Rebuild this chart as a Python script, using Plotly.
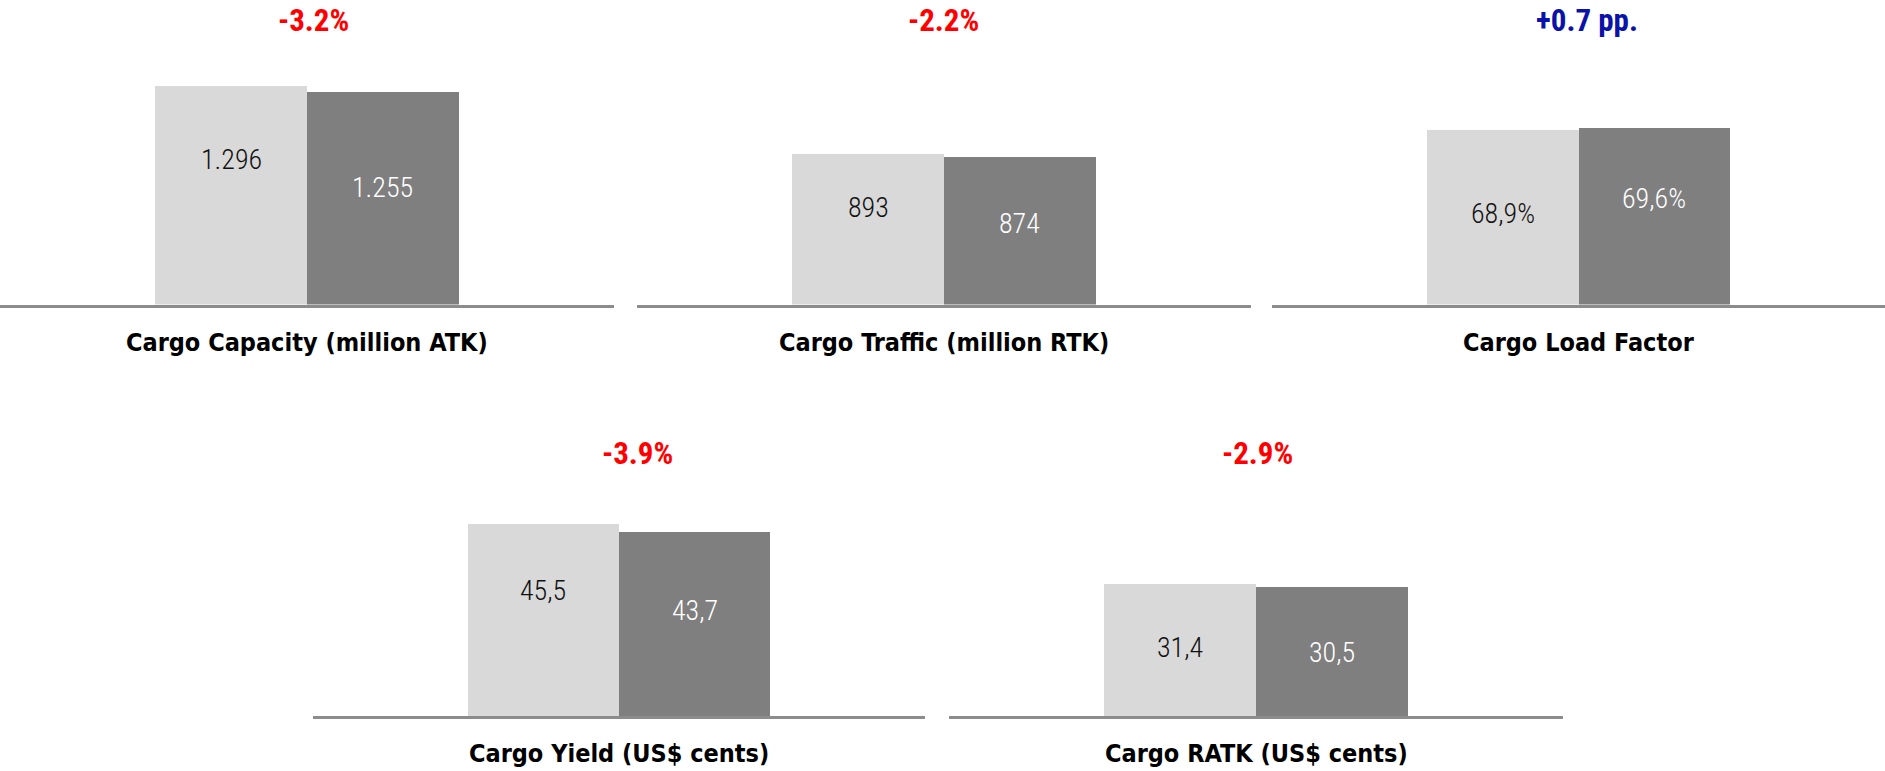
import plotly.graph_objects as go

# ---- data ----
periods = ["Previous period", "Current period"]
panel_titles = [
    "Cargo Capacity (million ATK)",
    "Cargo Traffic (million RTK)",
    "Cargo Load Factor",
    "Cargo Yield (US$ cents)",
    "Cargo RATK (US$ cents)",
]
capacity = [1296, 1255]
traffic = [893, 874]
load_factor = [68.9, 69.6]
yield_cents = [45.5, 43.7]
ratk_cents = [31.4, 30.5]
value_labels = [
    ["1.296", "1.255"],
    ["893", "874"],
    ["68,9%", "69,6%"],
    ["45,5", "43,7"],
    ["31,4", "30,5"],
]
changes = ["-3.2%", "-2.2%", "+0.7 pp.", "-3.9%", "-2.9%"]
change_colors = ["#FF0000", "#FF0000", "#0A12A8", "#FF0000", "#FF0000"]

series = [capacity, traffic, load_factor, yield_cents, ratk_cents]

# ---- layout / style ----
W, H = 1885, 771
bar_colors = ["#D9D9D9", "#7F7F7F"]
label_colors = ["#111111", "#FFFFFF"]
# label height as fraction of bar value (style)
label_frac = [[0.66, 0.55], [0.64, 0.55], [0.525, 0.60], [0.655, 0.575], [0.515, 0.49]]
# panel horizontal extents in px, row baselines
x_px = [(0, 614), (637, 1251), (1272, 1885), (313, 925), (949, 1563)]
rows = [0, 0, 0, 1, 1]
y_dom = [(1 - 304.5 / H, 1.0), (1 - 716 / H, 0.55)]
y_max = [1802, 1802, 120.4, 87.5, 87.5]
title_y_px = [342, 753]
change_y_px = [20, 453]
change_x_px = [313, 944, 1587, 637, 1257]

cond_font = "Liberation Sans Narrow, Roboto Condensed, DejaVu Sans Condensed, Arial Narrow, sans-serif"
title_font = "DejaVu Sans Condensed, DejaVu Sans, sans-serif"

fig = go.Figure()
layout = dict(
    width=W, height=H, margin=dict(l=0, r=0, t=0, b=0),
    paper_bgcolor="white", plot_bgcolor="white",
    showlegend=False, barmode="group", bargap=0,
)
annotations = []
for i, vals in enumerate(series):
    ax = "" if i == 0 else str(i + 1)
    fig.add_trace(go.Bar(
        x=periods, y=vals, xaxis="x" + ax, yaxis="y" + ax,
        marker=dict(color=bar_colors, line=dict(width=0)),
        hoverinfo="skip",
    ))
    x0, x1 = x_px[i]
    layout["xaxis" + ax] = dict(
        domain=[x0 / W, x1 / W], range=[-1.52, 2.52], anchor="y" + ax,
        showticklabels=False, ticks="", showgrid=False, zeroline=False,
        showline=True, linecolor="#8C8C8C", linewidth=3,
    )
    layout["yaxis" + ax] = dict(
        domain=list(y_dom[rows[i]]), range=[0, y_max[i]], anchor="x" + ax,
        showticklabels=False, ticks="", showgrid=False, zeroline=False, showline=False,
    )
    # value labels
    for j, v in enumerate(vals):
        annotations.append(dict(
            x=periods[j], y=v * label_frac[i][j], xref="x" + ax, yref="y" + ax,
            xanchor="center", yanchor="middle",
            text=value_labels[i][j], showarrow=False,
            font=dict(family=cond_font, size=28, weight=300, color=label_colors[j]),
        ))
    # panel title
    annotations.append(dict(
        x=(x0 + x1) / 2 / W, y=1 - title_y_px[rows[i]] / H, xref="paper", yref="paper",
        xanchor="center", yanchor="middle",
        text="<b>" + panel_titles[i] + "</b>", showarrow=False,
        font=dict(family=title_font, size=25, color="#000000"),
    ))
    # change label
    annotations.append(dict(
        x=change_x_px[i] / W, y=1 - change_y_px[rows[i]] / H, xref="paper", yref="paper",
        xanchor="center", yanchor="middle",
        text="<b>" + changes[i] + "</b>", showarrow=False,
        font=dict(family=cond_font, size=31, color=change_colors[i]),
    ))

layout["annotations"] = annotations
fig.update_layout(**layout)
fig.write_html("out.html", config={"displayModeBar": False},
               post_script="document.body.style.margin='0';")
